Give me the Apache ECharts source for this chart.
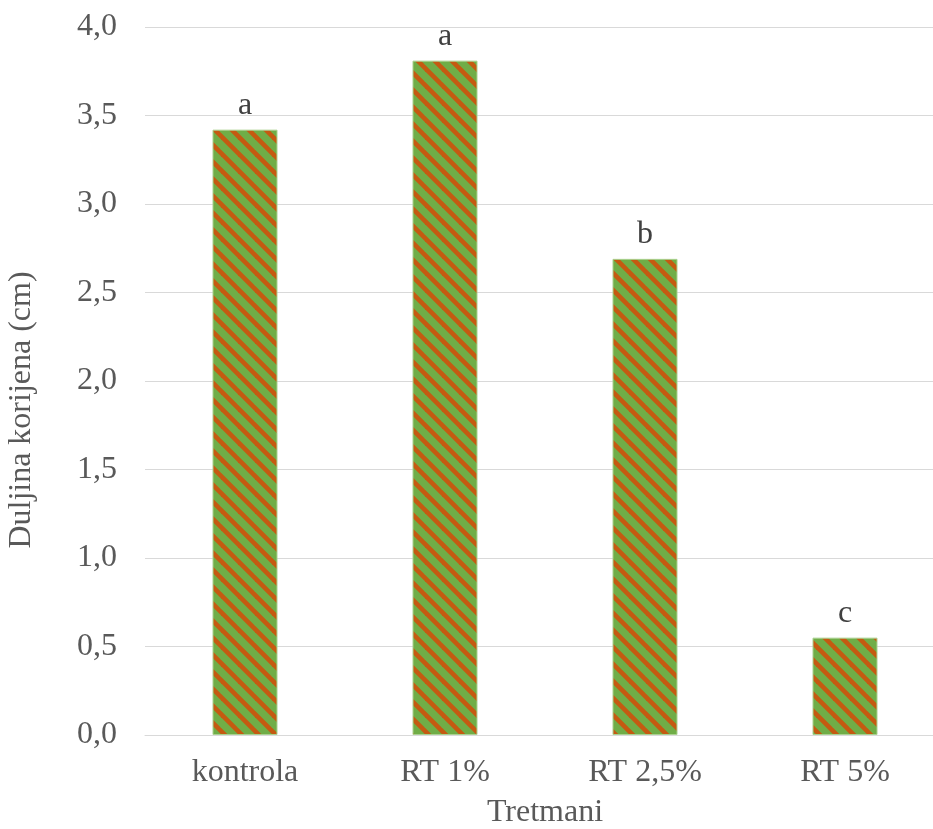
<!DOCTYPE html>
<html><head><meta charset="utf-8">
<script src="https://cdn.jsdelivr.net/npm/echarts@6/dist/echarts.min.js"></script>
<style>html,body{margin:0;padding:0;background:#fff;overflow:hidden}#c{width:945px;height:829px}</style>
</head><body><div id="c"></div>
<script>
const categories = ['kontrola', 'RT 1%', 'RT 2,5%', 'RT 5%'];
const values = [3.42, 3.81, 2.69, 0.55];
const letters = ['a', 'a', 'b', 'c'];
const yTicks = [0, 0.5, 1, 1.5, 2, 2.5, 3, 3.5, 4];

function makePattern() {
  const s = 17;
  const cv = document.createElement('canvas');
  cv.width = s; cv.height = s;
  const ctx = cv.getContext('2d');
  ctx.fillStyle = '#70AD47';
  ctx.fillRect(0, 0, s, s);
  ctx.strokeStyle = '#C55A11';
  ctx.lineWidth = 4.6;
  for (const c of [-s, 0, s]) {
    ctx.beginPath();
    ctx.moveTo(c - 2, -2);
    ctx.lineTo(c + s + 2, s + 2);
    ctx.stroke();
  }
  return cv;
}

const chart = echarts.init(document.getElementById('c'), null, {renderer: 'canvas'});
const font = '"Liberation Serif", "Times New Roman", serif';
chart.setOption({
  animation: false,
  grid: {left: 145, top: 27, width: 800, height: 708, containLabel: false, outerBoundsMode: 'none'},
  xAxis: {
    type: 'category', data: categories,
    axisLine: {lineStyle: {color: '#D9D9D9', width: 1}},
    axisTick: {show: false},
    axisLabel: {color: '#595959', fontSize: 32, fontFamily: font, margin: 22},
    name: 'Tretmani', nameLocation: 'middle', nameGap: 62,
    nameTextStyle: {color: '#595959', fontSize: 32, fontFamily: font}
  },
  yAxis: {
    type: 'value', min: 0, max: 4, interval: 0.5,
    axisLine: {show: false}, axisTick: {show: false},
    splitLine: {lineStyle: {color: '#D9D9D9', width: 1}},
    axisLabel: {color: '#595959', fontSize: 32, fontFamily: font, margin: 28,
      formatter: v => v.toFixed(1).replace('.', ',')},
    name: 'Duljina korijena (cm)', nameLocation: 'middle', nameGap: 107,
    nameTextStyle: {color: '#595959', fontSize: 32, fontFamily: font, padding: [0, 58, 0, 0]}
  },
  series: [{
    type: 'bar', data: values, barWidth: 65,
    itemStyle: {color: {image: makePattern(), repeat: 'repeat'}, borderColor: '#A9D18E', borderWidth: 1},
    label: {show: true, position: 'top', distance: 8, color: '#404040', fontSize: 32, fontFamily: font,
      formatter: p => letters[p.dataIndex]}
  }]
});
</script></body></html>
